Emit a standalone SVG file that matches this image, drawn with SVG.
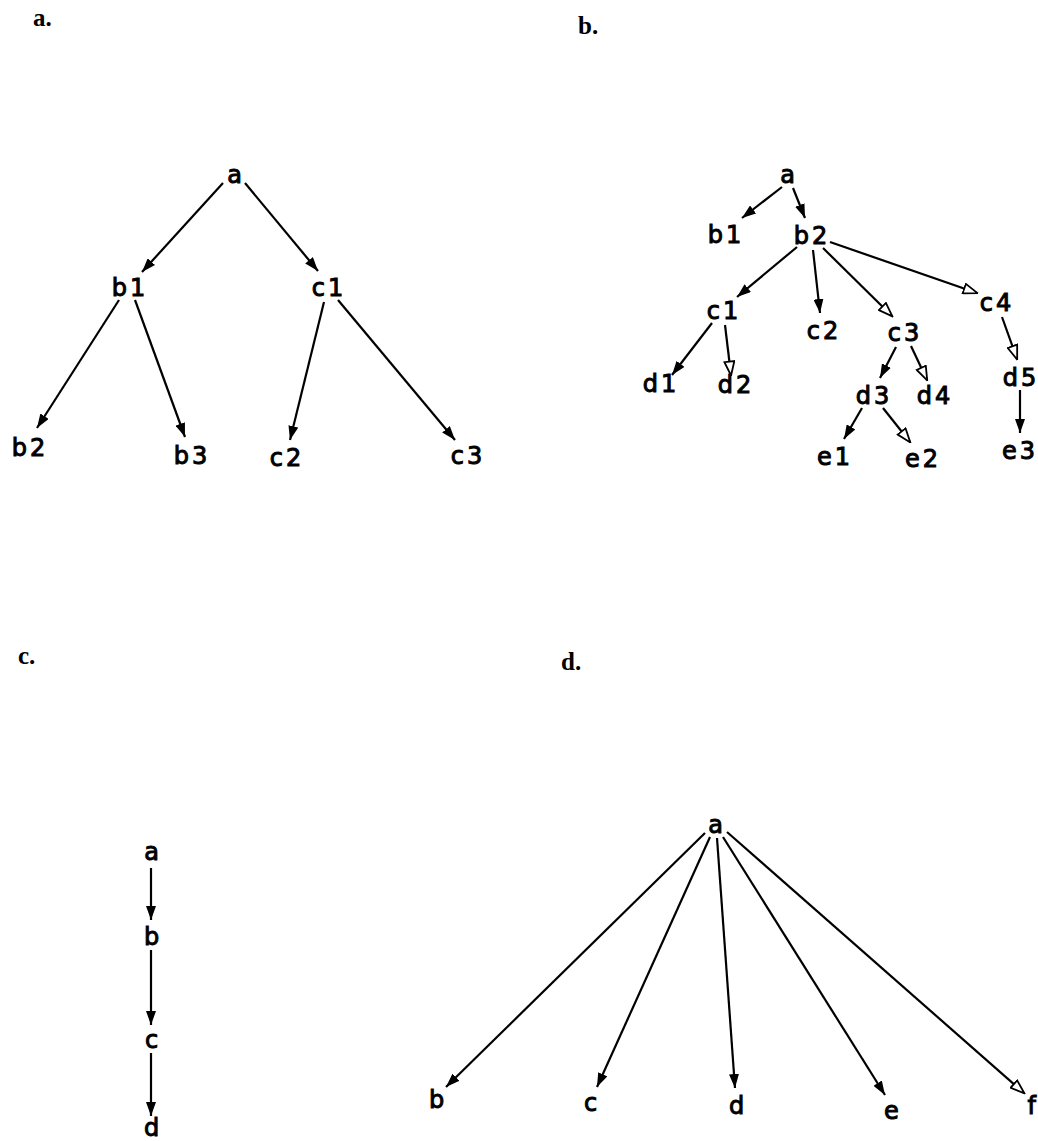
<svg xmlns="http://www.w3.org/2000/svg" width="1038" height="1141" viewBox="0 0 1038 1141">
<style>
.n{font-family:"DejaVu Sans","Liberation Sans",sans-serif;font-size:24px;fill:#000;stroke:#000;stroke-width:1;text-anchor:middle;letter-spacing:3px}
.p{font-family:"Liberation Serif","Times New Roman",serif;font-size:25px;font-weight:bold;fill:#000}
.e{stroke:#000;stroke-width:2.2;fill:none;marker-end:url(#af)}
.h{stroke:#000;stroke-width:2.2;fill:none;marker-end:url(#ah)}
</style>
<defs>
<marker id="af" viewBox="0 0 14 10" refX="14" refY="5" markerWidth="14" markerHeight="10" markerUnits="userSpaceOnUse" orient="auto">
<path d="M0,0 L14,5 L0,10 z" fill="#000"/>
</marker>
<marker id="ah" viewBox="-1 -1 16 12" refX="13.5" refY="5" markerWidth="16" markerHeight="12" markerUnits="userSpaceOnUse" orient="auto">
<path d="M0,0 L14,5 L0,10 z" fill="#fff" stroke="#000" stroke-width="1.8"/>
</marker>
</defs>
<rect width="1038" height="1141" fill="#fff"/>
<g id="panel-labels">
<text class="p" x="33" y="26">a.</text>
<text class="p" x="578" y="34">b.</text>
<text class="p" x="18" y="664">c.</text>
<text class="p" x="561" y="670">d.</text>
</g>
<g id="connectors">
<line class="e" x1="223" y1="183" x2="142" y2="272"/>
<line class="e" x1="245" y1="183" x2="318" y2="271"/>
<line class="e" x1="119" y1="300" x2="37" y2="428"/>
<line class="e" x1="135" y1="300" x2="185" y2="437"/>
<line class="e" x1="324" y1="302" x2="290" y2="440"/>
<line class="e" x1="338" y1="300" x2="455" y2="440"/>
<line class="e" x1="782" y1="187" x2="742" y2="218"/>
<line class="e" x1="793" y1="188" x2="805" y2="218"/>
<line class="e" x1="797" y1="247" x2="737" y2="297"/>
<line class="e" x1="813" y1="250" x2="820" y2="313"/>
<line class="h" x1="823" y1="248" x2="892" y2="316"/>
<line class="h" x1="830" y1="242" x2="977" y2="293"/>
<line class="e" x1="712" y1="323" x2="672" y2="375"/>
<line class="h" x1="725" y1="325" x2="731" y2="375"/>
<line class="e" x1="896" y1="347" x2="880" y2="378"/>
<line class="h" x1="911" y1="346" x2="927" y2="380"/>
<line class="h" x1="1002" y1="317" x2="1017" y2="359"/>
<line class="e" x1="1020" y1="390" x2="1020" y2="433"/>
<line class="e" x1="862" y1="408" x2="844" y2="439"/>
<line class="h" x1="883" y1="408" x2="910" y2="442"/>
<line class="e" x1="151" y1="868" x2="151" y2="920"/>
<line class="e" x1="151" y1="950" x2="151" y2="1025"/>
<line class="e" x1="151" y1="1053" x2="151" y2="1116"/>
<line class="e" x1="705" y1="833" x2="446" y2="1087"/>
<line class="e" x1="710" y1="837" x2="597" y2="1087"/>
<line class="e" x1="717" y1="838" x2="735" y2="1088"/>
<line class="e" x1="723" y1="837" x2="885" y2="1095"/>
<line class="h" x1="727" y1="832" x2="1024" y2="1093"/>
</g>
<g id="tree-a">
<g id="a-a"><text class="n" x="236" y="183">a</text></g>
<g id="a-b1"><text class="n" x="130" y="296">b1</text></g>
<g id="a-c1"><text class="n" x="329" y="296">c1</text></g>
<g id="a-b2"><text class="n" x="30" y="456">b2</text></g>
<g id="a-b3"><text class="n" x="192" y="464">b3</text></g>
<g id="a-c2"><text class="n" x="287" y="466">c2</text></g>
<g id="a-c3"><text class="n" x="468" y="464">c3</text></g>
</g>
<g id="tree-b">
<g id="b-a"><text class="n" x="789" y="183">a</text></g>
<g id="b-b1"><text class="n" x="726" y="243">b1</text></g>
<g id="b-b2"><text class="n" x="812" y="244">b2</text></g>
<g id="b-c1"><text class="n" x="724" y="319">c1</text></g>
<g id="b-c2"><text class="n" x="824" y="339">c2</text></g>
<g id="b-c3"><text class="n" x="905" y="341">c3</text></g>
<g id="b-c4"><text class="n" x="997" y="311">c4</text></g>
<g id="b-d1"><text class="n" x="661" y="392">d1</text></g>
<g id="b-d2"><text class="n" x="736" y="393">d2</text></g>
<g id="b-d3"><text class="n" x="874" y="404">d3</text></g>
<g id="b-d4"><text class="n" x="935" y="404">d4</text></g>
<g id="b-d5"><text class="n" x="1021" y="386">d5</text></g>
<g id="b-e1"><text class="n" x="835" y="465">e1</text></g>
<g id="b-e2"><text class="n" x="923" y="467">e2</text></g>
<g id="b-e3"><text class="n" x="1020" y="459">e3</text></g>
</g>
<g id="tree-c">
<g id="c-a"><text class="n" x="153" y="860">a</text></g>
<g id="c-b"><text class="n" x="153" y="945">b</text></g>
<g id="c-c"><text class="n" x="153" y="1048">c</text></g>
<g id="c-d"><text class="n" x="153" y="1136">d</text></g>
</g>
<g id="tree-d">
<g id="d-a"><text class="n" x="717" y="833">a</text></g>
<g id="d-b"><text class="n" x="438" y="1108">b</text></g>
<g id="d-c"><text class="n" x="592" y="1111">c</text></g>
<g id="d-d"><text class="n" x="738" y="1114">d</text></g>
<g id="d-e"><text class="n" x="893" y="1119">e</text></g>
<g id="d-f"><text class="n" x="1036" y="1114" style="text-anchor:end;letter-spacing:0">f</text></g>
</g>
</svg>
